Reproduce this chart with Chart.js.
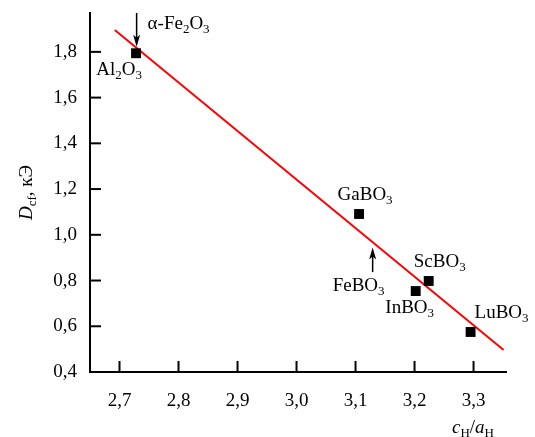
<!DOCTYPE html>
<html>
<head>
<meta charset="utf-8">
<script src="https://cdn.jsdelivr.net/npm/chart.js@4.4.1/dist/chart.umd.min.js"></script>
<style>
  body { margin: 0; background: #fff; }
  #wrap { width: 535px; height: 437px; }
</style>
</head>
<body>
<div id="wrap"><canvas id="dcfChart"></canvas></div>
<script>
// данные
const compounds = ['Al2O3', 'GaBO3', 'InBO3', 'ScBO3', 'LuBO3'];
const ratioCA = [2.728, 3.106, 3.202, 3.224, 3.295];
const fieldD = [1.794, 1.091, 0.754, 0.798, 0.575];

const fitX = [2.692, 3.351];
const fitY = [1.896, 0.496];

// стрелки: α-Fe2O3 и FeBO3
const arrowNames = ['α-Fe2O3', 'FeBO3'];
const arrowX = [2.729, 3.129];
const arrowFrom = [1.97, 0.837];
const arrowTo = [1.822, 0.945];

const xTicks = [2.7, 2.8, 2.9, 3.0, 3.1, 3.2, 3.3];
const yTicks = [0.4, 0.6, 0.8, 1.0, 1.2, 1.4, 1.6, 1.8];

const FONT = '"Liberation Serif", "Times New Roman", serif';
const FS = 19;

// куски текста: [текст, стиль] n - обычный, i - курсив, s - индекс
function parts(name) {
    if (name === 'α-Fe2O3') return [['α-Fe', 'n'], ['2', 's'], ['O', 'n'], ['3', 's']];
    let out = [];
    let m = name.match(/[A-Za-z]+|\d+/g);
    m.forEach(p => out.push([p, /\d/.test(p) ? 's' : 'n']));
    return out;
}

function fontFor(style) {
    if (style === 's') return Math.round(FS * 0.7) + 'px ' + FONT;
    if (style === 'i') return 'italic ' + FS + 'px ' + FONT;
    return FS + 'px ' + FONT;
}

function drawRich(ctx, list, x, y, align) {
    let w = 0;
    list.forEach(p => { ctx.font = fontFor(p[1]); w += ctx.measureText(p[0]).width; });
    let cx = align === 'left' ? x : (align === 'right' ? x - w : x - w / 2);
    ctx.textBaseline = 'middle';
    ctx.textAlign = 'left';
    list.forEach(p => {
        ctx.font = fontFor(p[1]);
        let dy = p[1] === 's' ? FS * 0.28 : 0;
        ctx.fillText(p[0], cx, y + dy);
        cx += ctx.measureText(p[0]).width;
    });
}

// смещения подписей (px) относительно точек
const labelShift = {
    'Al2O3': [-17, 17], 'GaBO3': [6, -19], 'InBO3': [-6, 17],
    'ScBO3': [11, -19], 'LuBO3': [31, -19]
};

const extras = {
    id: 'extras',
    afterDraw(chart) {
        const ctx = chart.ctx;
        const xs = chart.scales.x, ys = chart.scales.y;
        const area = chart.chartArea;
        ctx.save();
        ctx.strokeStyle = '#000';
        ctx.fillStyle = '#000';
        ctx.lineWidth = 2;

        // засечки внутрь
        xTicks.forEach(v => {
            let px = xs.getPixelForValue(v);
            ctx.beginPath(); ctx.moveTo(px, area.bottom); ctx.lineTo(px, area.bottom - 11); ctx.stroke();
        });
        yTicks.forEach(v => {
            let py = ys.getPixelForValue(v);
            ctx.beginPath(); ctx.moveTo(area.left, py); ctx.lineTo(area.left + 11, py); ctx.stroke();
        });

        // подписи точек
        compounds.forEach((c, i) => {
            let px = xs.getPixelForValue(ratioCA[i]);
            let py = ys.getPixelForValue(fieldD[i]);
            let s = labelShift[c];
            drawRich(ctx, parts(c), px + s[0], py + s[1], 'center');
        });

        // стрелки
        ctx.lineWidth = 1.5;
        arrowNames.forEach((n, i) => {
            let px = xs.getPixelForValue(arrowX[i]);
            let y0 = ys.getPixelForValue(arrowFrom[i]);
            let y1 = ys.getPixelForValue(arrowTo[i]);
            let dir = y1 > y0 ? 1 : -1;
            ctx.beginPath(); ctx.moveTo(px, y0); ctx.lineTo(px, y1 - dir * 6); ctx.stroke();
            ctx.beginPath();
            ctx.moveTo(px, y1);
            ctx.lineTo(px - 3.5, y1 - dir * 12);
            ctx.lineTo(px, y1 - dir * 9);
            ctx.lineTo(px + 3.5, y1 - dir * 12);
            ctx.closePath();
            ctx.fill();
            if (i === 0) drawRich(ctx, parts(n), px + 11, y0 + 11, 'left');
            else drawRich(ctx, parts(n), px - 14, y0 + 14, 'center');
        });

        // подписи осей
        drawRich(ctx, [['c', 'i'], ['H', 's'], ['/', 'n'], ['a', 'i'], ['H', 's']],
            area.right - 12, area.bottom + 56, 'right');
        ctx.translate(27, (area.top + area.bottom) / 2);
        ctx.rotate(-Math.PI / 2);
        drawRich(ctx, [['D', 'i'], ['cf', 's'], [', кЭ', 'n']], 0, 0, 'center');
        ctx.restore();
    }
};

const fmt = v => Number(v).toFixed(1).replace('.', ',');

function noPad(s) {
    s.paddingTop = 0; s.paddingBottom = 0; s.paddingLeft = 0; s.paddingRight = 0;
}

new Chart(document.getElementById('dcfChart'), {
    type: 'scatter',
    data: {
        datasets: [{
            data: ratioCA.map((x, i) => ({ x: x, y: fieldD[i] })),
            pointStyle: 'rect',
            pointRadius: 7,
            pointHoverRadius: 7,
            backgroundColor: '#000',
            borderColor: '#000',
            borderWidth: 0
        }, {
            type: 'line',
            data: fitX.map((x, i) => ({ x: x, y: fitY[i] })),
            borderColor: '#ff0000',
            borderWidth: 2,
            pointRadius: 0,
            fill: false
        }]
    },
    options: {
        responsive: true,
        maintainAspectRatio: false,
        animation: false,
        events: [],
        layout: { padding: { top: 13, right: 29, left: 0, bottom: 0 } },
        plugins: { legend: { display: false }, tooltip: { enabled: false } },
        scales: {
            x: {
                type: 'linear',
                min: 2.65,
                max: 3.355,
                afterFit: s => { s.height = 65; noPad(s); },
                afterBuildTicks: s => { s.ticks = xTicks.map(v => ({ value: v })); },
                grid: { drawOnChartArea: false, drawTicks: false },
                border: { color: '#000', width: 2 },
                ticks: { color: '#000', padding: 18, font: { family: FONT, size: FS }, callback: fmt }
            },
            y: {
                type: 'linear',
                min: 0.4,
                max: 1.97,
                afterFit: s => { s.width = 90; noPad(s); },
                afterBuildTicks: s => { s.ticks = yTicks.map(v => ({ value: v })); },
                grid: { drawOnChartArea: false, drawTicks: false },
                border: { color: '#000', width: 2 },
                ticks: { color: '#000', padding: 13, font: { family: FONT, size: FS }, callback: fmt }
            }
        }
    },
    plugins: [extras]
});
</script>
</body>
</html>
